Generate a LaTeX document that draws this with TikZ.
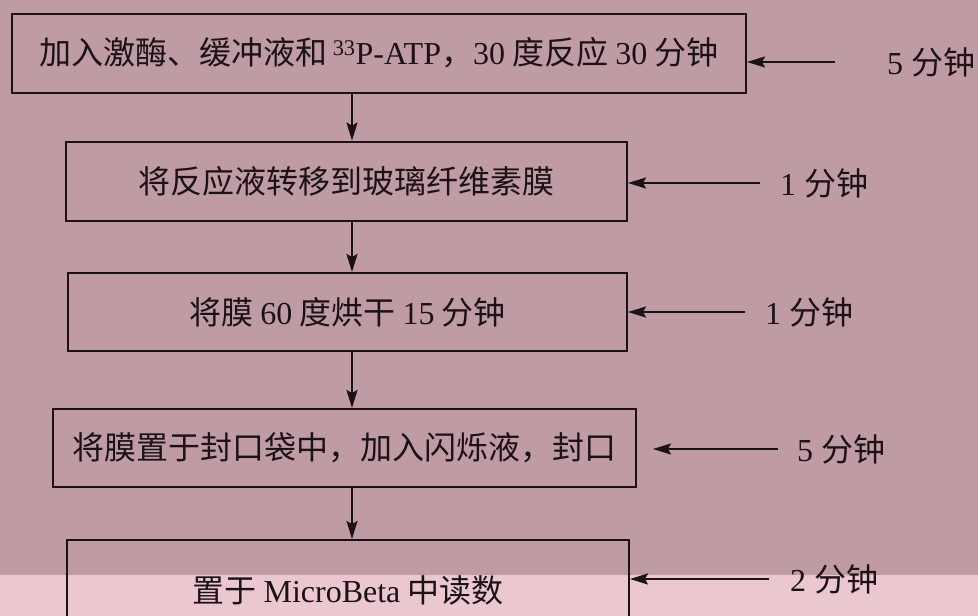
\documentclass[tikz,border=0pt]{standalone}
\usepackage{fontspec}
\setmainfont{Liberation Serif}
\newfontfamily\cj{Noto Sans CJK SC}
\usepackage{xcolor}
\usepackage{tikz}
\usetikzlibrary{positioning, calc, arrows.meta}

\definecolor{bgmauve}{RGB}{191,156,163}
\definecolor{bgpink}{RGB}{235,200,207}
\definecolor{ink}{RGB}{28,18,20}

\begin{document}
\begin{tikzpicture}[x=1pt, y=-1pt]
	\tikzstyle{taskb}=[rectangle, draw=ink, line width=2pt, inner sep=0pt, text=ink, font=\fontsize{32}{36}\selectfont]
	\tikzstyle{zeit}=[anchor=west, inner sep=0pt, text=ink, font=\fontsize{32}{36}\selectfont]
	\tikzstyle{pfeil}=[draw=ink, line width=2pt, -{Stealth[length=18pt, width=11pt, inset=3pt]}]
	
	\clip (0,0) rectangle (978,616);
	\fill[bgmauve] (0,0) rectangle (978,575);
	\fill[bgpink] (0,575) rectangle (978,616);
	
	\node (b1) at (379,53) [taskb, minimum width=734pt, minimum height=79pt] {\cj 加入激酶、缓冲液和\,{\rmfamily\textsuperscript{33}P-ATP}，{\rmfamily 30} 度反应 {\rmfamily 30} 分钟};
	\node (b2) at (346.5,181) [taskb, minimum width=561pt, minimum height=79pt] {\cj 将反应液转移到玻璃纤维素膜};
	\node (b3) at (347.5,312) [taskb, minimum width=559pt, minimum height=78pt] {\cj 将膜 {\rmfamily 60} 度烘干 {\rmfamily 15} 分钟};
	\node (b4) at (344.5,448) [taskb, minimum width=583pt, minimum height=78pt] {\cj 将膜置于封口袋中，加入闪烁液，封口};
	\node (b5) at (348,590) [taskb, minimum width=562pt, minimum height=100pt] {\cj 置于 {\rmfamily MicroBeta} 中读数};
	
	\coordinate (mid) at (352,0);
	\draw[pfeil] (b1.south -| mid) -- (b2.north -| mid);
	\draw[pfeil] (b2.south -| mid) -- (b3.north -| mid);
	\draw[pfeil] (b3.south -| mid) -- (b4.north -| mid);
	\draw[pfeil] (b4.south -| mid) -- (b5.north -| mid);
	
	\node (z1) at (887,62) [zeit] {{\rmfamily 5} \cj 分钟};
	\node (z2) at (780,183) [zeit] {{\rmfamily 1} \cj 分钟};
	\node (z3) at (765,312) [zeit] {{\rmfamily 1} \cj 分钟};
	\node (z4) at (797,449) [zeit] {{\rmfamily 5} \cj 分钟};
	\node (z5) at (790,579) [zeit] {{\rmfamily 2} \cj 分钟};
	
	\coordinate (s1) at (835,62);
	\coordinate (s2) at (760,183);
	\coordinate (s3) at (745,312);
	\coordinate (s4) at (778,449);
	\coordinate (s5) at (769,579);
	
	\draw[pfeil] (s1) -- (b1.east |- s1);
	\draw[pfeil] (s2) -- (b2.east |- s2);
	\draw[pfeil] (s3) -- (b3.east |- s3);
	\draw[pfeil, shorten >=16pt] (s4) -- (b4.east |- s4);
	\draw[pfeil] (s5) -- (b5.east |- s5);
\end{tikzpicture}
\end{document}
